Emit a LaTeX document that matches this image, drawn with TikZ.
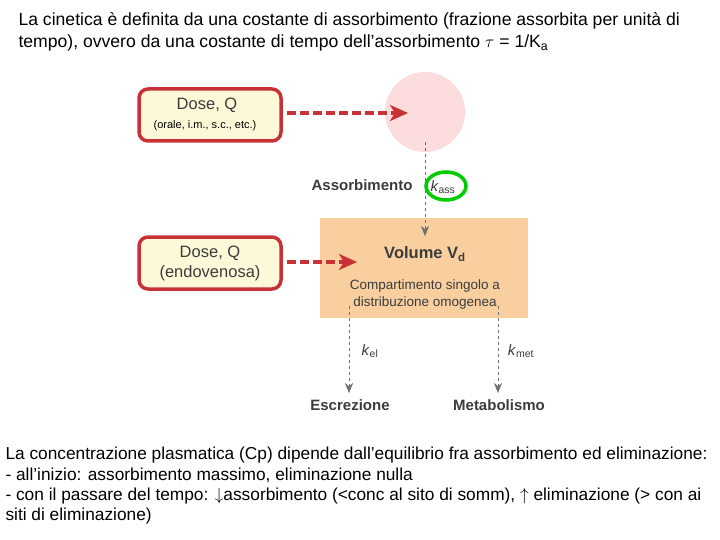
\documentclass[tikz,border=0pt]{standalone}
\usepackage{fontspec}
\setmainfont{Liberation Sans}
\usetikzlibrary{arrows.meta}
\definecolor{dosered}{RGB}{200,50,55}
\definecolor{dosefill}{RGB}{253,248,215}
\definecolor{vdfill}{RGB}{249,207,160}
\definecolor{pinkfill}{RGB}{252,220,220}
\definecolor{flowgrey}{RGB}{110,110,110}
\definecolor{txtgrey}{RGB}{60,60,60}
\begin{document}
\begin{tikzpicture}[
    x=1pt, y=-1pt,
    dosebox/.style={draw=dosered, line width=3.5pt, fill=dosefill, rounded corners=9pt, minimum width=142pt, minimum height=52pt, text=txtgrey},
    doseflow/.style={draw=dosered, line width=3.5pt, dash pattern=on 9pt off 4pt, -{Stealth[length=18pt,width=16pt,inset=5pt,fill=dosered]}},
    flow/.style={draw=flowgrey, dashed, -{Stealth[length=10pt,width=8pt]}},
    label/.style={font=\bfseries\fontsize{15}{17}\selectfont, text=txtgrey},
    kname/.style={font=\fontsize{15}{17}\selectfont, text=txtgrey},
    plain/.style={font=\fontsize{17.6}{20}\selectfont, anchor=west},
    ]
    \useasboundingbox (0,0) rectangle (720,540);

    % title
    \node [plain] (t1) at (15,21) {La cinetica è definita da una costante di assorbimento (frazione assorbita per unità di};
    \node [plain] (t2) at (15,43) {tempo), ovvero da una costante di tempo dell’assorbimento $\tau$ = 1/K$_\mathrm{a}$};

    % compartments
    \node [circle, fill=pinkfill, minimum size=80pt] (site) at (425,112) {};
    \node [rectangle, fill=vdfill, minimum width=208pt, minimum height=100pt] (vd) at (424,268) {};
    \node [label, font=\bfseries\fontsize{16.5}{18}\selectfont] (vdtxt) at (425,254) {Volume V\textsubscript{d}};
    \node [kname, align=center, font=\fontsize{13.5}{17}\selectfont] (vddesc) at (425,295) {Compartimento singolo a\\distribuzione omogenea};

    % doses
    \node [dosebox] (dose1) at (210,115) {};
    \node [text=txtgrey, font=\fontsize{16.5}{18}\selectfont] (d1a) at (207,105) {Dose, Q};
    \node [text=black, font=\fontsize{11}{12}\selectfont] (d1b) at (205,126) {(orale, i.m., s.c., etc.)};
    \node [dosebox, align=center, font=\fontsize{16.5}{20}\selectfont] (dose2) at (210,263) {Dose, Q\\(endovenosa)};

    \draw [doseflow] (dose1.east) ++(4,-2) coordinate (d1s) -- (408,113) coordinate (d1e);
    \draw [doseflow] (dose2.east) ++(4,-1) coordinate (d2s) -- (357,262) coordinate (d2e);

    % absorption
    \coordinate (abs0) at (425,142);
    \coordinate (abs1) at (425,236);
    \draw [flow] (abs0) -- (abs1);
    \node [label] (assorb) at (362,185) {Assorbimento};
    \node [kname] (kass) at (443,187) {\textit{k}\textsubscript{ass}};
    \draw [green!80!black, line width=3.5pt] (446,186) ellipse (20pt and 14pt);

    % elimination
    \coordinate (el0) at (349,306);
    \coordinate (el1) at (349,393);
    \coordinate (met0) at (498,306);
    \coordinate (met1) at (498,393);
    \draw [flow] (el0) -- (el1);
    \draw [flow] (met0) -- (met1);
    \node [kname] (kel) at (370,351) {\textit{k}\textsubscript{el}};
    \node [kname] (kmet) at (521,351) {\textit{k}\textsubscript{met}};
    \node [label] (escr) at (350,405) {Escrezione};
    \node [label] (metab) at (499,405) {Metabolismo};

    % notes
    \node [plain, font=\fontsize{17.3}{20}\selectfont] (n1) at (2,455) {La concentrazione plasmatica (Cp) dipende dall’equilibrio fra assorbimento ed eliminazione:};
    \node [plain, font=\fontsize{17.3}{20}\selectfont] (n2) at (2,475) {- all’inizio: assorbimento massimo, eliminazione nulla};
    \node [plain, font=\fontsize{17.3}{20}\selectfont] (n3) at (2,496) {- con il passare del tempo: $\downarrow$assorbimento (<conc al sito di somm), $\uparrow$ eliminazione (> con ai};
    \node [plain, font=\fontsize{17.3}{20}\selectfont] (n4) at (2,516) {siti di eliminazione)};
\end{tikzpicture}
\end{document}
